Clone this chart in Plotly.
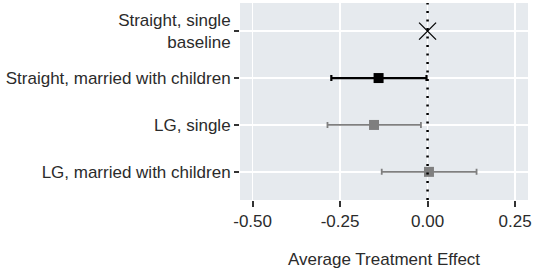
import plotly.graph_objects as go

categories = ["Straight, single<br>baseline", "Straight, married with children",
              "LG, single", "LG, married with children"]
estimates = [0.0, -0.140, -0.153, 0.004]
ci_low = [None, -0.275, -0.286, -0.131]
ci_high = [None, -0.003, -0.019, 0.140]
colors = ["black", "black", "#7f7f7f", "#7f7f7f"]
x_ticks = [-0.50, -0.25, 0.00, 0.25]
x_tick_labels = ["-0.50", "-0.25", "0.00", "0.25"]

ypos = [4, 3, 2, 1]

fig = go.Figure()

# baseline marker
fig.add_trace(go.Scatter(
    x=[estimates[0]], y=[ypos[0]], mode="markers",
    marker=dict(symbol="x-thin", size=17, line=dict(color="black", width=1.3)),
    showlegend=False, hoverinfo="skip"))

for i in range(1, 4):
    lw = 2.2 if colors[i] == "black" else 1.8
    fig.add_trace(go.Scatter(
        x=[estimates[i]], y=[ypos[i]], mode="markers",
        marker=dict(symbol="square", size=10, color=colors[i], line=dict(width=0)),
        error_x=dict(type="data", symmetric=False,
                     array=[ci_high[i] - estimates[i]],
                     arrayminus=[estimates[i] - ci_low[i]],
                     color=colors[i], thickness=lw, width=3),
        showlegend=False, hoverinfo="skip"))

fig.add_vline(x=0, line=dict(color="black", width=2.5, dash="2px,6.5px"), layer="above")

font = "Liberation Sans, Arial, sans-serif"
tc = "#2b2b2b"
fig.update_layout(
    width=533, height=274,
    margin=dict(l=240, r=5, t=3, b=74),
    plot_bgcolor="#e6eaee", paper_bgcolor="white",
    font=dict(family=font, size=17, color=tc),
    xaxis=dict(range=[-0.536, 0.287], tickvals=x_ticks, ticktext=x_tick_labels,
               showgrid=True, gridcolor="white", gridwidth=1.5, zeroline=False,
               ticks="outside", ticklen=6, tickwidth=2, tickcolor="#333333",
               tickfont=dict(size=17, color=tc), automargin=False,
               title=dict(text="Average Treatment Effect", font=dict(size=17, color=tc),
                          standoff=22)),
    yaxis=dict(range=[0.4, 4.6], tickvals=ypos, ticktext=categories,
               showgrid=True, gridcolor="white", gridwidth=1.5, zeroline=False,
               ticks="outside", ticklen=5, tickwidth=2, tickcolor="#333333",
               tickfont=dict(size=17, color=tc), automargin=False),
)

fig.write_html("out.html", config={"displayModeBar": False, "staticPlot": True},
               post_script="document.body.style.margin='0';document.body.style.overflow='hidden';")
